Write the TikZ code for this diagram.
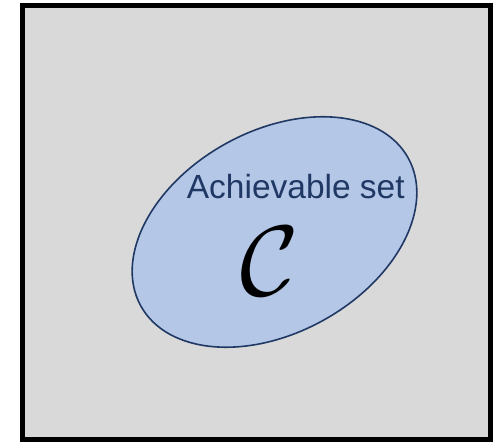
\documentclass[tikz,border=0pt]{standalone}
\usepackage{fontspec}
\setsansfont{Liberation Sans}
\usetikzlibrary{shapes.geometric}
\definecolor{boxgray}{HTML}{D9D9D9}
\definecolor{setfill}{HTML}{B4C7E7}
\definecolor{navy}{HTML}{203864}
\begin{document}
\begin{tikzpicture}[x=1pt,y=1pt,
  outerbox/.style={draw=black,line width=5pt,fill=boxgray},
  setshape/.style={draw=navy,line width=1.6pt,fill=setfill},
  setlabel/.style={text=navy,font=\sffamily\fontsize{33.5}{34}\selectfont,inner sep=0pt,anchor=base}]
\useasboundingbox (0,0) rectangle (493,442);
\draw[outerbox] (22.5,2.5) rectangle (490,436.2);
\node[setshape,ellipse,minimum width=305.6pt,minimum height=201.8pt,inner sep=0pt,rotate=29] (set) at (274.5,210) {};
\node[setlabel] (lbl) at (295.8,243.7) {Achievable set};
\node[inner sep=0pt,scale=10] (c) at (269.5,180.6) {$\mathcal{C}$};
\end{tikzpicture}
\end{document}
